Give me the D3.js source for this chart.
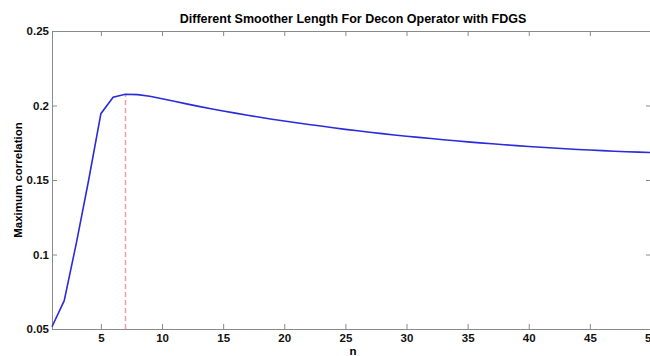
<!DOCTYPE html>
<meta charset="utf-8">
<style>
  body { margin: 0; background: #fff; }
  text { font-family: "Liberation Sans", Arial, sans-serif; font-weight: bold; }
</style>
<script src="https://d3js.org/d3.v7.min.js"></script>
<div id="my_dataviz"></div>
<script>

// data
var nValues = d3.range(1, 51);
var maxCorr = [
  0.0515, 0.069, 0.108, 0.150, 0.1945, 0.2055, 0.2075, 0.2073, 0.2062, 0.2045,
  0.2028, 0.2011, 0.1994, 0.1978, 0.1963, 0.1949, 0.1935, 0.1921, 0.1908, 0.1896,
  0.1884, 0.1873, 0.1862, 0.1851, 0.1840, 0.1830, 0.1820, 0.1811, 0.1802, 0.1794,
  0.1786, 0.1778, 0.1770, 0.1763, 0.1756, 0.1749, 0.1743, 0.1737, 0.1731, 0.1725,
  0.1720, 0.1715, 0.1710, 0.1705, 0.1701, 0.1697, 0.1693, 0.1690, 0.1687, 0.1684
];
var xTicks = [5, 10, 15, 20, 25, 30, 35, 40, 45, 50];
var yTicks = [0.05, 0.1, 0.15, 0.2, 0.25];
var bestN = 7;

var margin = {top: 31, right: -1, bottom: 27, left: 52},
    width = 650 - margin.left - margin.right,
    height = 356 - margin.top - margin.bottom;

var svg = d3.select("#my_dataviz")
  .append("svg")
    .attr("width", 650)
    .attr("height", 356)
  .append("g")
    .attr("transform", "translate(" + margin.left + "," + margin.top + ")");

var x = d3.scaleLinear().domain([1, 50]).range([0, width]);
var y = d3.scaleLinear().domain([0.05, 0.25]).range([height, 0]);

var data = nValues.map(function(n, i) { return {n: n, v: maxCorr[i]}; });

// axes, matlab style ticks pointing inward
var fmt = function(d) { return String(+d.toFixed(2)); };

svg.append("g")
  .attr("transform", "translate(0," + height + ")")
  .call(d3.axisBottom(x).tickValues(xTicks).tickSizeInner(-5).tickSizeOuter(0).tickPadding(5));
svg.append("g")
  .call(d3.axisTop(x).tickValues(xTicks).tickSizeInner(-5).tickSizeOuter(0).tickFormat(""));
svg.append("g")
  .call(d3.axisLeft(y).tickValues(yTicks).tickSizeInner(-5).tickSizeOuter(0).tickPadding(3).tickFormat(fmt));
svg.append("g")
  .attr("transform", "translate(" + width + ",0)")
  .call(d3.axisRight(y).tickValues(yTicks).tickSizeInner(-5).tickSizeOuter(0).tickFormat(""));

svg.selectAll(".domain, .tick line").attr("stroke", "#8a8a8a");
svg.selectAll(".tick text").attr("fill", "#111").style("font-size", "11.5px");

// dashed marker at the best n
svg.append("line")
  .attr("x1", Math.round(x(bestN)) + 0.5).attr("x2", Math.round(x(bestN)) + 0.5)
  .attr("y1", height).attr("y2", y(maxCorr[bestN - 1]))
  .attr("stroke", "#f0a0a4")
  .attr("stroke-width", 1.5)
  .attr("stroke-dasharray", "5,3");

// the curve
svg.append("path")
  .datum(data)
  .attr("fill", "none")
  .attr("stroke", "#2b2bdc")
  .attr("stroke-width", 1.6)
  .attr("d", d3.line()
    .x(function(d) { return x(d.n); })
    .y(function(d) { return y(d.v); }));

// labels
svg.append("text")
  .attr("x", 353 - margin.left)
  .attr("y", 23 - margin.top)
  .style("text-anchor", "middle")
  .style("font-size", "12.5px")
  .text("Different Smoother Length For Decon Operator with FDGS");

svg.append("text")
  .attr("transform", "translate(" + (22 - margin.left) + "," + (180 - margin.top) + ") rotate(-90)")
  .style("text-anchor", "middle")
  .style("font-size", "11.5px")
  .text("Maximum correlation");

svg.append("text")
  .attr("x", 353 - margin.left)
  .attr("y", 355 - margin.top)
  .style("text-anchor", "middle")
  .style("font-size", "11.5px")
  .text("n");

</script>
